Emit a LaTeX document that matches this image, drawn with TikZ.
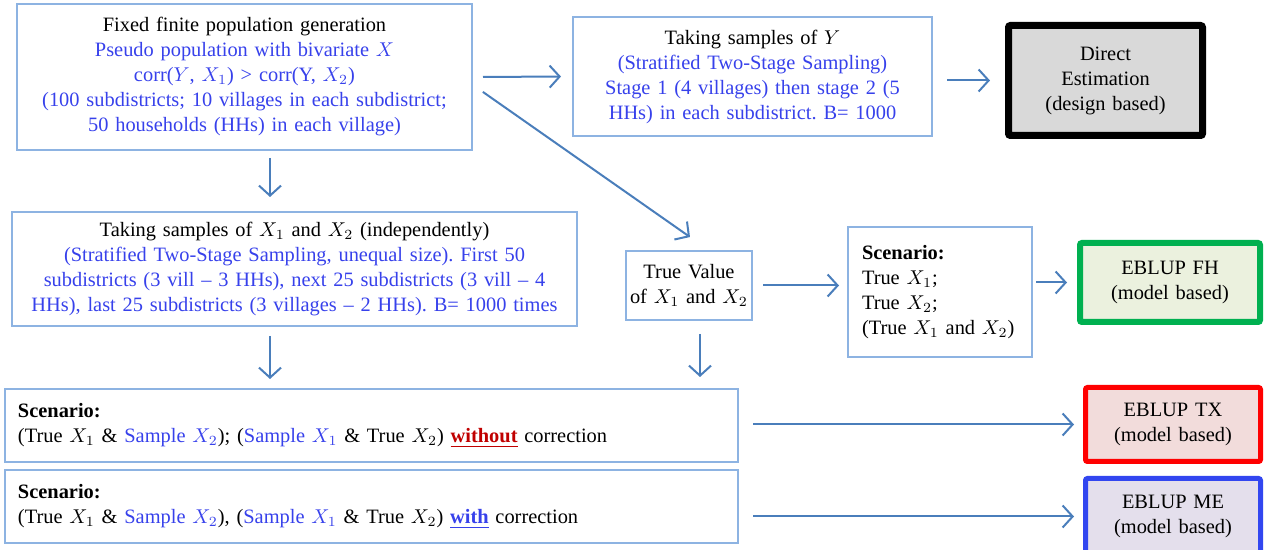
\documentclass[tikz,border=0pt]{standalone}
\usepackage{fontspec}
\setmainfont{Liberation Serif}
\usetikzlibrary{arrows.meta}
\frenchspacing

\definecolor{boxblue}{RGB}{141,179,226}
\definecolor{arrowblue}{RGB}{74,126,187}
\definecolor{txtblue}{RGB}{55,65,235}
\definecolor{wored}{RGB}{192,0,0}
\definecolor{greyfill}{RGB}{217,217,217}
\definecolor{fhgreen}{RGB}{0,176,80}
\definecolor{fhfill}{RGB}{235,241,222}
\definecolor{txfill}{RGB}{242,220,219}
\definecolor{meblue}{RGB}{50,70,240}
\definecolor{mefill}{RGB}{228,223,236}

\newcommand{\bl}[1]{\textcolor{txtblue}{#1}}

\tikzset{
  flowbox/.style={draw=boxblue, line width=1pt, inner sep=2pt, align=center},
  leftbox/.style={flowbox, align=left, inner xsep=6.5pt},
  resbox/.style={rounded corners=1pt, inner sep=2pt, align=center},
  arr/.style={draw=arrowblue, line width=1pt, -{Straight Barb[length=5pt,width=11pt]}}
}

\begin{document}
\begin{tikzpicture}[x=0.5pt,y=-0.5pt,font=\fontsize{10.2}{12.5}\selectfont]

  \useasboundingbox (0,0) rectangle (1266,550);

  % boxes of the simulation
  \begin{scope}[every node/.style={flowbox}]
    \node (pop) at (244.5,77) [text width=223.5pt, minimum height=73pt]
      {Fixed finite population generation\\
       \bl{Pseudo population with bivariate $X$}\\
       \bl{corr($Y$, $X_1$) > corr(Y, $X_2$)}\\
       \bl{(100 subdistricts; 10 villages in each subdistrict;}\\
       \bl{50 households (HHs) in each village)}};
    \node (ysamp) at (752.5,76.5) [text width=175.5pt, minimum height=59.5pt]
      {Taking samples of $Y$\\
       \bl{(Stratified Two-Stage Sampling)}\\
       \bl{Stage 1 (4 villages) then stage 2 (5}\\
       \bl{HHs) in each subdistrict. B= 1000}};
    \node (xsamp) at (294.5,269) [text width=278.5pt, minimum height=57pt]
      {Taking samples of $X_1$ and $X_2$ (independently)\\
       \bl{(Stratified Two-Stage Sampling, unequal size). First 50}\\
       \bl{subdistricts (3 vill -- 3 HHs), next 25 subdistricts (3 vill -- 4}\\
       \bl{HHs), last 25 subdistricts (3 villages -- 2 HHs). B= 1000 times}};
    \node (truev) at (689,285.5) [text width=59pt, minimum height=34.5pt]
      {True Value\\ of $X_1$ and $X_2$};
    \node (scen) at (940,292) [leftbox, inner xsep=7pt, text width=78pt, minimum height=65pt]
      {\textbf{Scenario:}\\ True $X_1$;\\ True $X_2$;\\ (True $X_1$ and $X_2$)};
    \node (scwo) at (371.5,425.5) [leftbox, text width=353.5pt, minimum height=36.5pt]
      {\textbf{Scenario:}\\
       (True $X_1$ \& \bl{Sample $X_2$}); (\bl{Sample $X_1$} \& True $X_2$)
       \textcolor{wored}{\underline{\textbf{without}}} correction};
    \node (scwi) at (371.5,506.5) [leftbox, text width=353.5pt, minimum height=36.5pt]
      {\textbf{Scenario:}\\
       (True $X_1$ \& \bl{Sample $X_2$}), (\bl{Sample $X_1$} \& True $X_2$)
       \textcolor{txtblue}{\underline{\textbf{with}}} correction};
  \end{scope}

  % estimators
  \begin{scope}[every node/.style={resbox}]
    \node (direct) at (1105.5,80.5) [draw=black, line width=3.5pt, fill=greyfill,
      text width=93pt, minimum height=55pt]
      {Direct\\ Estimation\\ (design based)};
    \node (fh) at (1170,282.5) [draw=fhgreen, line width=3pt, fill=fhfill,
      text width=86pt, minimum height=39.5pt]
      {EBLUP FH\\ (model based)};
    \node (tx) at (1173,424.5) [draw=red, line width=2.5pt, fill=txfill,
      text width=83.5pt, minimum height=37pt]
      {EBLUP TX\\ (model based)};
    \node (me) at (1173,516.5) [draw=meblue, line width=2.5pt, fill=mefill,
      text width=83.5pt, minimum height=38pt]
      {EBLUP ME\\ (model based)};
  \end{scope}

  \begin{scope}[every edge/.style={arr}]
    \path (pop.east) edge[shorten <=5pt, shorten >=5.5pt] (ysamp.west);
    \path ([yshift=-4pt]pop.east) edge[shorten <=6pt, shorten >=11.3pt] ([xshift=9.75pt]truev.north);
    \path (direct.west -| ysamp.east) edge[shorten <=7pt, shorten >=7.5pt] (direct.west);
    \path ([xshift=12.75pt]pop.south) edge[shorten <=3.5pt, shorten >=7pt] ([xshift=-12.25pt]xsamp.north);
    \path ([xshift=-12.25pt]xsamp.south) edge[shorten <=4.5pt, shorten >=4.5pt] ([xshift=-50.75pt]scwo.north);
    \path ([xshift=5.5pt]truev.south) edge[shorten <=6.5pt, shorten >=5.5pt] ([xshift=164.25pt]scwo.north);
    \path (truev.east) edge[shorten <=5pt, shorten >=4pt] (truev.east -| scen.west);
    \path (fh.west -| scen.east) edge[shorten <=1.5pt, shorten >=5pt] (fh.west);
    \path (tx.west -| scwo.east) edge[shorten <=7pt, shorten >=4.5pt] (tx.west);
    \path (me.west -| scwi.east) edge[shorten <=7pt, shorten >=4.5pt] (me.west);
  \end{scope}

\end{tikzpicture}
\end{document}
